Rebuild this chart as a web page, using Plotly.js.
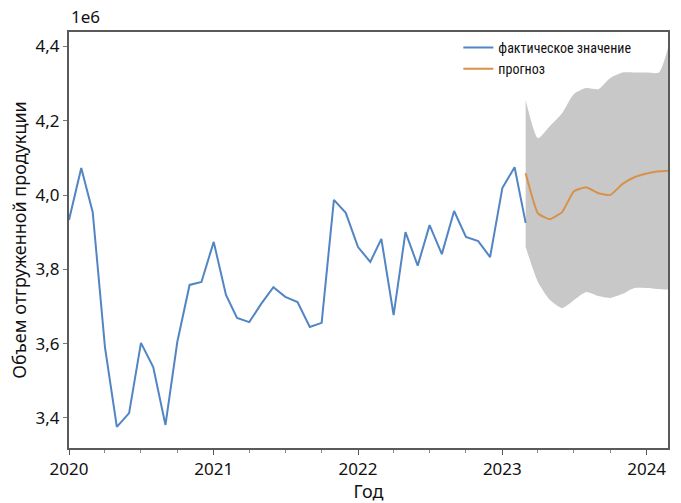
<!DOCTYPE html>
<html>
<head>
<meta charset="utf-8">
<script src="https://cdn.plot.ly/plotly-3.0.1.min.js"></script>
<style>html,body{margin:0;padding:0;background:#fff;}#chart{width:681px;height:503px;}</style>
</head>
<body>
<div id="chart"></div>
<script>
// Actual monthly values (millions), Jan 2020 – Mar 2023
const actualDates = [
  '2020-01-01','2020-02-01','2020-03-01','2020-04-01','2020-05-01','2020-06-01','2020-07-01','2020-08-01','2020-09-01','2020-10-01','2020-11-01','2020-12-01',
  '2021-01-01','2021-02-01','2021-03-01','2021-04-01','2021-05-01','2021-06-01','2021-07-01','2021-08-01','2021-09-01','2021-10-01','2021-11-01','2021-12-01',
  '2022-01-01','2022-02-01','2022-03-01','2022-04-01','2022-05-01','2022-06-01','2022-07-01','2022-08-01','2022-09-01','2022-10-01','2022-11-01','2022-12-01',
  '2023-01-01','2023-02-01','2023-03-01'
];
const actualValues = [
  3.933, 4.073, 3.954, 3.590, 3.376, 3.413, 3.602, 3.537, 3.381, 3.605, 3.758, 3.766,
  3.874, 3.731, 3.669, 3.658, 3.707, 3.752, 3.726, 3.712, 3.645, 3.656, 3.987, 3.952,
  3.860, 3.820, 3.882, 3.677, 3.900, 3.810, 3.919, 3.841, 3.957, 3.887, 3.876, 3.833,
  4.019, 4.075, 3.925
];
// Forecast, Mar 2023 – Mar 2024
const forecastDates = [
  '2023-03-01','2023-04-01','2023-05-01','2023-06-01','2023-07-01','2023-08-01','2023-09-01',
  '2023-10-01','2023-11-01','2023-12-01','2024-01-01','2024-02-01','2024-03-01'
];
const forecastValues = [4.059, 3.951, 3.935, 3.954, 4.010, 4.021, 4.005, 4.000, 4.030, 4.048, 4.058, 4.064, 4.066];
const upperValues    = [4.256, 4.153, 4.185, 4.220, 4.272, 4.288, 4.285, 4.315, 4.330, 4.330, 4.330, 4.330, 4.420];
const lowerValues    = [3.860, 3.766, 3.718, 3.696, 3.717, 3.739, 3.728, 3.723, 3.734, 3.750, 3.750, 3.747, 3.745];

const yTicks = [3.4, 3.6, 3.8, 4.0, 4.2, 4.4];
const xTicks = ['2020-01-01','2021-01-01','2022-01-01','2023-01-01','2024-01-01'];
const xTickText = ['2020','2021','2022','2023','2024'];

const FONT = '"Noto Sans", "Open Sans", sans-serif';
const NARROW = '"Liberation Sans Narrow", "Roboto Condensed", "DejaVu Sans Condensed", sans-serif';

const traces = [
  {x: forecastDates, y: upperValues, mode: 'lines', line: {width: 0, color: '#c8c8c8', shape: 'spline', smoothing: 0.6}, showlegend: false, hoverinfo: 'skip'},
  {x: forecastDates, y: lowerValues, mode: 'lines', line: {width: 0, color: '#c8c8c8', shape: 'spline', smoothing: 0.6}, fill: 'tonexty', fillcolor: '#c8c8c8', showlegend: false, hoverinfo: 'skip'},
  {x: actualDates, y: actualValues, mode: 'lines', name: 'фактическое значение', line: {color: '#5285c3', width: 2}},
  {x: forecastDates, y: forecastValues, mode: 'lines', name: 'прогноз', line: {color: '#d8914a', width: 2, shape: 'spline', smoothing: 0.4}}
];

const layout = {
  width: 681, height: 503,
  margin: {l: 69, r: 13, t: 32, b: 55},
  paper_bgcolor: '#fff', plot_bgcolor: '#fff',
  separators: ', ',
  font: {family: FONT, size: 17, color: '#111'},
  showlegend: true,
  legend: {x: 0.65, y: 1.0, xanchor: 'left', yanchor: 'top', bgcolor: 'rgba(0,0,0,0)', traceorder: 'normal',
           font: {family: NARROW, size: 14, color: '#111'}, itemwidth: 30, tracegroupgap: 0},
  xaxis: {
    type: 'date', range: ['2020-01-01', '2024-02-24'],
    tickvals: xTicks, ticktext: xTickText,
    ticks: 'outside', ticklen: 5, tickcolor: '#555',
    minor: {dtick: 'M3', ticks: 'outside', ticklen: 3, tickcolor: '#888', showgrid: false},
    showgrid: false, zeroline: false,
    showline: true, mirror: true, linecolor: '#5a5a5a', linewidth: 2,
    tickfont: {family: FONT, size: 17, color: '#111'},
    title: {text: 'Год', font: {family: FONT, size: 18, color: '#111'}, standoff: 6}
  },
  yaxis: {
    range: [3.319, 4.439],
    tickvals: yTicks, tickformat: '.1f',
    ticks: 'outside', ticklen: 4, tickcolor: '#777',
    showgrid: false, zeroline: false,
    showline: true, mirror: true, linecolor: '#5a5a5a', linewidth: 2,
    tickfont: {family: FONT, size: 17, color: '#111'},
    title: {text: 'Объем отгруженной продукции', font: {family: FONT, size: 18, color: '#111'}, standoff: 4}
  },
  annotations: [
    {text: '1e6', xref: 'paper', yref: 'paper', x: 0, y: 1, xanchor: 'left', yanchor: 'bottom', yshift: 2,
     showarrow: false, font: {family: FONT, size: 17, color: '#111'}}
  ]
};

Plotly.newPlot('chart', traces, layout, {displayModeBar: false, staticPlot: true});
</script>
</body>
</html>
